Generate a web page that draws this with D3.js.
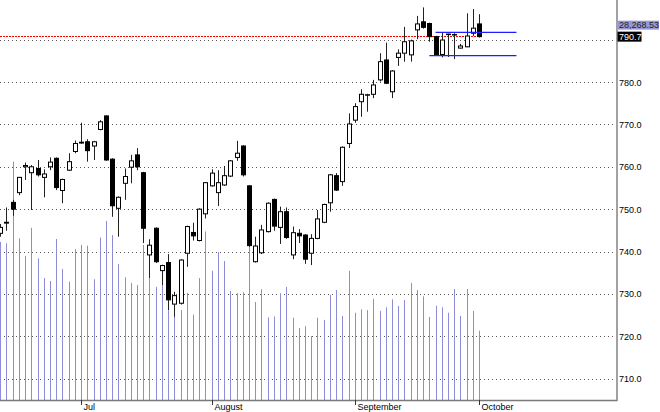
<!DOCTYPE html>
<html><head><meta charset="utf-8">
<script src="https://cdn.jsdelivr.net/npm/d3@7"></script>
<style>html,body{margin:0;padding:0;background:#fff;}svg{display:block;font-family:"Liberation Sans",Arial,sans-serif;}</style>
</head><body>
<svg id="c" width="660" height="412"></svg>
<script>
const opens  = [744.3,746.7,751.6,753.9,760.0,758.6,759.6,757.5,760.0,762.0,754.4,759.2,763.6,765.6,765.9,764.9,768.8,772.0,761.8,750.2,756.1,759.9,762.8,758.6,739.2,745.5,735.5,737.4,727.6,727.8,739.6,744.5,742.6,748.9,755.5,753.9,755.7,757.8,762.2,764.9,755.5,737.6,739.7,744.7,752.3,745.7,749.4,739.2,744.3,743.9,739.6,743.1,746.9,751.5,757.9,756.5,765.5,771.0,775.35,776.9,777.1,780.5,785.2,777.7,785.8,786.8,786.4,792.3,794.2,793.8,790.7,786.5,791.2,791.1,788.0,788.3,791.5,793.7];
const highs  = [746.5,750.4,752.2,757.6,761.0,760.4,761.6,759.4,762.2,762.2,757.2,763.2,766.2,770.4,766.5,766.1,771.0,772.1,762.0,753.0,759.6,762.8,764.4,758.8,742.9,745.7,736.9,739.4,730.5,738.2,746.1,746.8,750.2,756.4,759.4,759.2,760.2,761.6,766.1,765.1,755.7,743.5,746.3,751.6,752.5,750.6,750.4,745.9,745.3,744.1,744.1,749.8,751.3,758.3,758.5,764.8,772.6,775.0,778.3,777.2,780.5,786.8,789.3,782.8,787.7,793.0,790.0,795.6,797.6,794.0,790.9,791.6,791.4,791.5,789.0,796.2,797.2,796.0];
const lows   = [743.5,744.9,748.4,753.3,756.9,749.8,757.7,752.8,759.2,754.5,751.4,759.0,763.2,765.4,761.2,761.6,768.6,761.4,748.2,743.5,752.2,756.1,759.2,742.0,733.7,737.3,732.1,726.2,724.6,727.5,736.4,742.6,742.4,747.8,755.3,750.75,755.5,757.6,761.4,757.7,741.1,737.4,739.4,744.5,744.9,741.8,743.0,738.2,742.0,737.1,736.8,742.9,746.7,749.4,754.3,755.5,764.4,770.4,771.8,773.0,776.2,780.1,779.5,776.2,783.8,784.8,784.8,790.1,792.6,789.5,786.2,785.8,785.9,785.4,787.9,788.2,790.85,790.5];
const closes = [745.7,746.9,750.0,757.5,760.3,760.0,758.1,758.3,761.1,755.1,757.0,761.2,765.5,765.8,763.8,765.9,770.6,761.6,750.8,752.8,757.7,761.4,760.0,745.5,741.5,737.6,736.7,728.6,729.6,738.0,745.9,743.7,750.0,756.25,758.5,756.25,757.9,761.4,763.2,758.1,741.4,741.3,745.1,751.4,746.0,749.4,743.3,744.45,743.7,738.2,743.1,747.7,751.1,758.1,754.5,764.6,770.1,774.2,777.1,777.0,779.3,784.8,779.7,782.6,786.8,789.5,789.7,793.7,792.9,790.7,786.4,789.9,791.3,791.2,788.5,790.85,792.7,790.7];
const volumes = [64.5,64.0,97.3,66.0,58.8,70.3,57.8,49.8,48.6,65.7,53.5,48.3,61.6,63.3,63.0,49.3,66.3,73.1,67.3,55.5,50.1,47.8,46.9,63.3,49.6,46.2,46.9,40.8,39.2,36.7,43.7,34.8,49.8,68.8,52.8,60.4,56.7,44.5,43.6,44.0,62.6,40.0,45.2,33.7,34.1,43.6,46.2,33.6,29.4,30.1,26.1,33.6,32.7,42.9,44.9,34.3,52.7,35.6,37.0,36.7,41.3,36.4,37.8,41.1,38.4,40.8,47.8,44.9,42.3,33.9,38.5,37.8,35.6,45.3,34.3,45.3,36.4,28.26853];
const priceTicks = [710,720,730,740,750,760,770,780,790,800];
const monthLabels = ["Jul","August","September","October"];
const monthIndex = [13,34,57,77];
const levelValues = [791.7,786.2];
const levelStart = [70,69];
const levelEnd = 83;

const svg = d3.select("#c");
const plotRight = 617, plotBottom = 400;
const x = d3.scaleLinear().domain([0,77]).range([0.2, 0.2+6.22*77]);
const y = d3.scaleLinear().domain([710,780]).range([378.7,82]);
const yv = d3.scaleLinear().domain([0,120]).range([plotBottom,106]);
const px = i => Math.round(x(i)) + 0.5;
const lastI = closes.length-1;
const ly = y(closes[lastI]);

// gridlines
svg.append("g").selectAll("line").data(priceTicks).join("line")
  .attr("x1",0).attr("x2",plotRight-2)
  .attr("y1",d=>Math.round(y(d))+0.5).attr("y2",d=>Math.round(y(d))+0.5)
  .attr("stroke","#555").attr("stroke-width",1).attr("stroke-dasharray","1,3");

// volume bars
svg.append("g").selectAll("line").data(volumes).join("line")
  .attr("x1",(d,i)=>px(i)).attr("x2",(d,i)=>px(i))
  .attr("y1",plotBottom).attr("y2",d=>yv(d))
  .attr("stroke","#8c8cd8").attr("stroke-width",1);

// last close red dotted line
svg.append("line").attr("x1",0).attr("x2",px(lastI)+3)
  .attr("y1",Math.round(ly)-0.5).attr("y2",Math.round(ly)-0.5)
  .attr("stroke","#ff0000").attr("stroke-width",1).attr("stroke-dasharray","2,1");

// candles
const idx = d3.range(opens.length);
const cg = svg.append("g");
cg.selectAll("line").data(idx).join("line")
  .attr("x1",i=>px(i)).attr("x2",i=>px(i))
  .attr("y1",i=>y(highs[i])).attr("y2",i=>y(lows[i]))
  .attr("stroke","#222").attr("stroke-width",1);
cg.selectAll("rect").data(idx).join("rect")
  .attr("x",i=>px(i)-2).attr("width",4)
  .attr("y",i=>y(Math.max(opens[i],closes[i])))
  .attr("height",i=>Math.max(0.5,Math.abs(y(opens[i])-y(closes[i]))))
  .attr("fill",i=>closes[i]>=opens[i]?"#fff":"#000")
  .attr("stroke","#000").attr("stroke-width",1);

// blue level lines
svg.append("g").selectAll("line").data(levelValues).join("line")
  .attr("x1",(d,k)=>x(levelStart[k])).attr("x2",x(levelEnd))
  .attr("y1",d=>y(d)).attr("y2",d=>y(d))
  .attr("stroke","#1f1fff").attr("stroke-width",1.3);

// axes frame
svg.append("line").attr("x1",plotRight).attr("x2",plotRight).attr("y1",0).attr("y2",plotBottom+1)
  .attr("stroke","#7a7a7a").attr("stroke-width",1.4);
svg.append("line").attr("x1",0).attr("x2",plotRight).attr("y1",plotBottom+0.5).attr("y2",plotBottom+0.5)
  .attr("stroke","#7a7a7a").attr("stroke-width",1.4);

// price tick labels (hidden where the last-price label sits, or off the top)
svg.append("g").selectAll("text")
  .data(priceTicks.filter(d=>Math.abs(y(d)-ly)>10 && y(d)>6)).join("text")
  .attr("x",plotRight+2).attr("y",d=>y(d)+3.5)
  .attr("font-size",9).attr("fill","#000").text(d=>d.toFixed(1));

// month ticks
const mg = svg.append("g");
mg.selectAll("line").data(monthIndex).join("line")
  .attr("x1",i=>px(i)).attr("x2",i=>px(i)).attr("y1",plotBottom).attr("y2",plotBottom+5)
  .attr("stroke","#333").attr("stroke-width",1);
mg.selectAll("text").data(monthIndex).join("text")
  .attr("x",i=>px(i)+2).attr("y",409.5).attr("font-size",9).attr("fill","#000")
  .text((d,k)=>monthLabels[k]);

// last price label
svg.append("rect").attr("x",plotRight+0.5).attr("y",ly-5).attr("width",24).attr("height",10).attr("fill","#000");
svg.append("text").attr("x",plotRight+2).attr("y",ly+3.5).attr("font-size",9).attr("fill","#fff")
  .text(closes[lastI].toFixed(1));
// last volume label
const vol = volumes[lastI]*1000;
svg.append("rect").attr("x",plotRight+1).attr("y",ly-16).attr("width",41).attr("height",9).attr("fill","#9898d8");
svg.append("text").attr("x",plotRight+2).attr("y",ly-8.5).attr("font-size",9).attr("fill","#222")
  .text(d3.format(",.2f")(vol));
</script>
</body></html>
